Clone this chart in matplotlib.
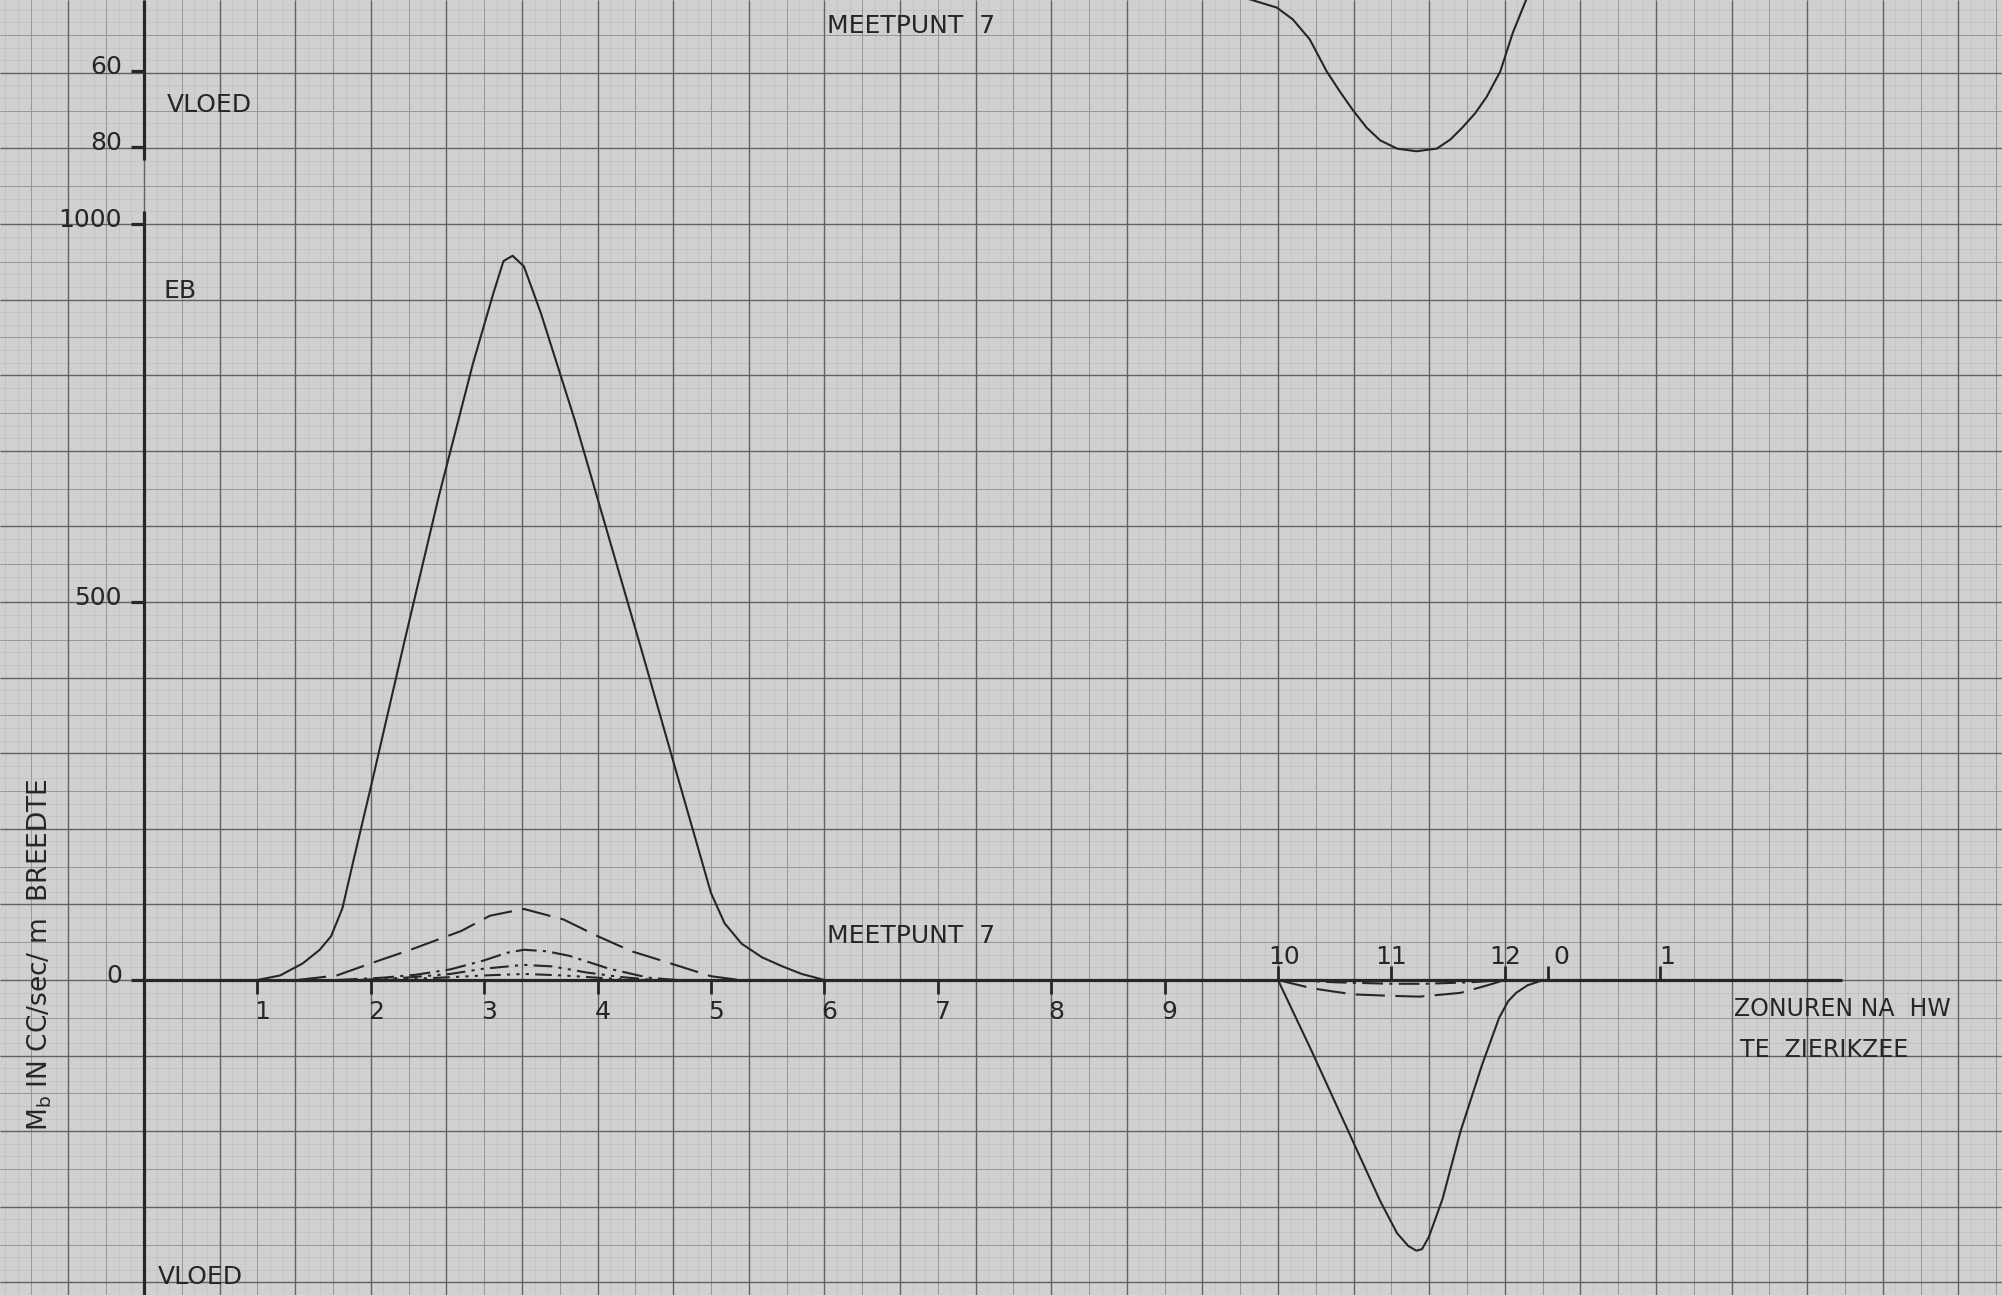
import numpy as np
import matplotlib.pyplot as plt

# ---- data (hours after HW Zierikzee, Mb in cc/sec/m) ----
main_hours = [1.0, 1.2, 1.4, 1.55, 1.65, 1.75, 1.85, 2.0, 2.3, 2.6, 2.9, 3.08, 3.17,
              3.25, 3.35, 3.5, 3.8, 4.1, 4.4, 4.7, 4.87, 5.0, 5.12, 5.27, 5.45,
              5.63, 5.8, 6.0]
main_mb = [0, 6, 22, 40, 58, 95, 160, 255, 450, 640, 815, 908, 951,
           958, 944, 882, 740, 585, 430, 272, 183, 115, 75, 48, 30,
           18, 8, 0]

dash_hours = [1.35, 1.7, 2.0, 2.35, 2.8, 3.05, 3.35, 3.7, 4.0, 4.3, 4.6, 5.0, 5.25]
dash_mb = [0, 6, 22, 40, 65, 85, 94, 80, 58, 38, 24, 5, 0]

dashdot_hours = [1.7, 2.1, 2.4, 2.7, 3.0, 3.2, 3.35, 3.55, 3.75, 4.1, 4.45, 4.7]
dashdot_mb = [0, 3, 7, 14, 26, 36, 40, 38, 32, 15, 3, 0]

dd2_hours = [1.9, 2.3, 2.7, 3.0, 3.35, 3.6, 3.9, 4.2, 4.5]
dd2_mb = [0, 3, 8, 15, 20, 18, 10, 4, 0]

dd3_hours = [2.1, 2.6, 3.0, 3.35, 3.7, 4.0, 4.3]
dd3_mb = [0, 3, 6, 8, 6, 3, 0]

flood_hours = [10.0, 10.3, 10.62, 10.9, 11.05, 11.15, 11.22, 11.27, 11.33, 11.45,
               11.61, 11.8, 11.95, 12.03, 12.1, 12.2, 12.34]
flood_mb = [0, -95, -200, -292, -335, -352, -358, -356, -340, -290,
            -200, -112, -50, -28, -17, -7, 0]

flood_dash_hours = [10.0, 10.3, 10.66, 11.0, 11.25, 11.61, 11.87, 12.0]
flood_dash_mb = [0, -11, -19, -21, -22, -17, -6, 0]

flood_dd_hours = [10.1, 10.5, 11.0, 11.3, 11.7, 12.0]
flood_dd_mb = [0, -3, -5, -5, -3, 0]

# upper panel (scale 60..80, increasing downwards)
top_hours = [9.55, 9.75, 9.99, 10.13, 10.28, 10.43, 10.55, 10.66, 10.78, 10.9,
             11.05, 11.22, 11.4, 11.52, 11.63, 11.74, 11.84, 11.96, 12.07, 12.19, 12.3]
top_vals = [39.5, 40.9, 43.1, 46.2, 51.5, 60, 65.5, 70.2, 74.8, 78.2,
            80.4, 81.1, 80.4, 78.0, 74.7, 71.0, 66.7, 60, 49.8, 40.9, 32]

y_ticks = [0, 500, 1000]
top_ticks = [60, 80]
x_ticks_low = [1, 2, 3, 4, 5, 6, 7, 8, 9]
x_ticks_high = [10, 11, 12, 12.38, 13.37]
x_labels_high = ["10", "11", "12", "0", "1"]
x_label_shift = [6, 0, 0, 13, 7]

PAPER = '#d0d0d0'
INK = '#262626'

# pixel layout of the graph paper
W, H = 2002, 1295
PX_ORIGIN_X, PX_ORIGIN_Y = 144, 980
PX_PER_HOUR = 113.4
PX_PER_UNIT = 0.756
X0 = -PX_ORIGIN_X / PX_PER_HOUR
X1 = (W - PX_ORIGIN_X) / PX_PER_HOUR
Y0 = -(H - PX_ORIGIN_Y) / PX_PER_UNIT
Y1 = PX_ORIGIN_Y / PX_PER_UNIT

fig = plt.figure(figsize=(W / 100, H / 100), dpi=100, facecolor=PAPER)
ax = fig.add_axes([0, 0, 1, 1])
ax.set_xlim(X0, X1)
ax.set_ylim(Y0, Y1)
ax.set_axis_off()

# graph paper grid: major every 100 units / 2/3 hour, medium half, fine sixth
major_x = 2 / 3
major_y = 100
for div, col, lw in [(6, '#bdbdbd', 0.45), (2, '#979797', 0.7), (1, '#626262', 1.0)]:
    sx = major_x / div
    sy = major_y / div
    xs = np.arange(np.floor(X0 / sx), np.ceil(X1 / sx) + 1) * sx
    ys = np.arange(np.floor(Y0 / sy), np.ceil(Y1 / sy) + 1) * sy
    ax.vlines(xs, Y0, Y1, colors=col, lw=lw, zorder=1)
    ax.hlines(ys, X0, X1, colors=col, lw=lw, zorder=1)

# axes of the lower panel
ax.vlines(0, Y0, 1017, colors=INK, lw=2.3, zorder=3)
ax.hlines(0, 0, 14.97, colors=INK, lw=2.3, zorder=3)
ax.hlines(y_ticks, -13 / PX_PER_HOUR, 0, colors=INK, lw=2.3, zorder=3)
ax.vlines(x_ticks_low, -14 / PX_PER_UNIT, 0, colors=INK, lw=2.0, zorder=3)
ax.vlines(x_ticks_high, 0, 14 / PX_PER_UNIT, colors=INK, lw=2.0, zorder=3)

fs = 18
for v in y_ticks:
    ax.annotate(str(v), (0, v), xytext=(-22, 4), textcoords='offset pixels',
                ha='right', va='center', fontsize=fs, color=INK)
for h in x_ticks_low:
    ax.annotate(str(h), (h, 0), xytext=(5, -32), textcoords='offset pixels',
                ha='center', va='center', fontsize=fs, color=INK)
for h, lab, dx in zip(x_ticks_high, x_labels_high, x_label_shift):
    ax.annotate(lab, (h, 0), xytext=(dx, 23), textcoords='offset pixels',
                ha='center', va='center', fontsize=fs, color=INK)

# curves of the lower panel
lw = 1.5
ax.plot(main_hours, main_mb, color=INK, lw=lw, zorder=4)
ax.plot(dash_hours, dash_mb, color=INK, lw=lw, ls=(0, (14, 5)), zorder=4)
ax.plot(dashdot_hours, dashdot_mb, color=INK, lw=lw, ls=(0, (10, 3, 1.5, 3)), zorder=4)
ax.plot(dd2_hours, dd2_mb, color=INK, lw=lw, ls=(0, (9, 3, 1.5, 3, 1.5, 3)), zorder=4)
ax.plot(dd3_hours, dd3_mb, color=INK, lw=lw,
        ls=(0, (8, 3, 1.5, 3, 1.5, 3, 1.5, 3)), zorder=4)
ax.plot(flood_hours, flood_mb, color=INK, lw=lw, zorder=4)
ax.plot(flood_dash_hours, flood_dash_mb, color=INK, lw=lw, ls=(0, (14, 5)), zorder=4)
ax.plot(flood_dd_hours, flood_dd_mb, color=INK, lw=lw, ls=(0, (10, 3, 1.5, 3)), zorder=4)

ax.text(0.17, 911, "EB", fontsize=fs, color=INK, va='center')
ax.text(0.12, -393, "VLOED", fontsize=fs, color=INK, va='center')
ax.text(6.02, 58, "MEETPUNT  7", fontsize=fs, color=INK, va='center')
ax.text(14.02, -38, "ZONUREN NA  HW", fontsize=17, color=INK, va='center')
ax.text(14.07, -93, "TE  ZIERIKZEE", fontsize=17, color=INK, va='center')
ax.text(-0.92, 34, r"M$_\mathregular{b}$ IN CC/sec/ m  BREEDTE", fontsize=19,
        color=INK, rotation=90, ha='center', va='center')

# upper panel, its own vertical scale on the same paper
ax_top = fig.add_axes([0, 0, 1, 1])
ax_top.set_xlim(X0, X1)
PX_PER_TOP = 3.78
top_lo = 60 - 71.5 / PX_PER_TOP
top_hi = 60 + (H - 71.5) / PX_PER_TOP
ax_top.set_ylim(top_hi, top_lo)
ax_top.set_axis_off()

ax_top.vlines(0, top_lo, 83.5, colors=INK, lw=2.3, zorder=3)
ax_top.hlines(top_ticks, -13 / PX_PER_HOUR, 0, colors=INK, lw=2.3, zorder=3)
for v in top_ticks:
    ax_top.annotate(str(v), (0, v), xytext=(-22, 4), textcoords='offset pixels',
                    ha='right', va='center', fontsize=fs, color=INK)
ax_top.plot(top_hours, top_vals, color=INK, lw=lw, zorder=4)
ax_top.text(0.2, 68.9, "VLOED", fontsize=fs, color=INK, va='center')
ax_top.text(6.02, 48.0, "MEETPUNT  7", fontsize=fs, color=INK, va='center')

fig.savefig('out.png', dpi=100, facecolor=PAPER)
